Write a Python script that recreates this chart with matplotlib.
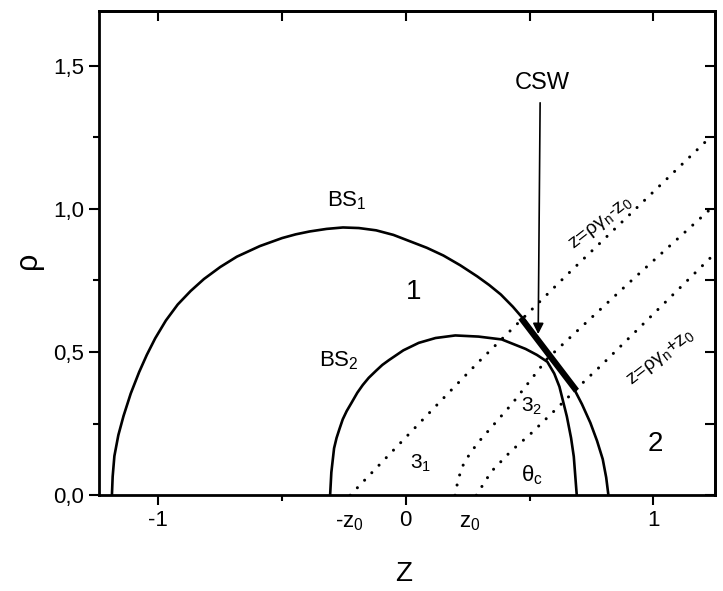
import matplotlib
matplotlib.use("Agg")
import matplotlib.pyplot as plt
from matplotlib.ticker import MultipleLocator, FuncFormatter

plt.rcParams['font.family'] = ['Liberation Sans', 'DejaVu Sans']
plt.rcParams['mathtext.default'] = 'regular'
plt.rcParams['axes.unicode_minus'] = False

# outer shock BS1 (z, rho)
bs1_z = [-1.188, -1.185, -1.178, -1.162, -1.141, -1.112, -1.078, -1.047, -1.013,
         -0.97, -0.922, -0.87, -0.816, -0.75, -0.683, -0.59, -0.50, -0.445,
         -0.389, -0.32, -0.254, -0.19, -0.12, -0.05, 0.016, 0.085, 0.152,
         0.22, 0.289, 0.337, 0.384, 0.433, 0.481, 0.53, 0.578, 0.63, 0.675,
         0.712, 0.746, 0.773, 0.796, 0.81, 0.819]
bs1_rho = [0.0, 0.065, 0.137, 0.21, 0.277, 0.355, 0.430, 0.49, 0.548,
           0.61, 0.666, 0.713, 0.755, 0.797, 0.833, 0.870, 0.898, 0.911,
           0.921, 0.93, 0.935, 0.933, 0.925, 0.909, 0.887, 0.864, 0.837,
           0.803, 0.764, 0.734, 0.701, 0.658, 0.610, 0.548, 0.483, 0.43, 0.380,
           0.318, 0.253, 0.19, 0.126, 0.062, 0.0]

# inner shock BS2
bs2_z = [-0.306, -0.301, -0.290, -0.280, -0.268, -0.255, -0.239, -0.22, -0.196,
         -0.174, -0.15, -0.12, -0.095, -0.068, -0.01, 0.052, 0.12, 0.20, 0.294,
         0.388, 0.484, 0.53, 0.572, 0.60, 0.621, 0.651, 0.668, 0.679, 0.691]
bs2_rho = [0.0, 0.08, 0.164, 0.2, 0.232, 0.265, 0.294, 0.322, 0.358,
           0.385, 0.41, 0.435, 0.455, 0.472, 0.506, 0.532, 0.549, 0.558, 0.554,
           0.544, 0.511, 0.49, 0.466, 0.425, 0.379, 0.275, 0.2, 0.135, 0.0]

# dotted lines
la_z = [-0.225, 0.151, 0.289, 0.652, 1.234]
la_rho = [0.0, 0.338, 0.461, 0.770, 1.253]

lb_z = [0.199, 0.212, 0.231, 0.250, 0.289, 0.43, 0.572, 0.90, 1.240]
lb_rho = [0.0, 0.057, 0.104, 0.133, 0.181, 0.32, 0.477, 0.74, 1.006]

lc_z = [0.285, 0.346, 0.425, 0.504, 0.603, 0.729, 0.781, 1.243]
lc_rho = [0.0, 0.083, 0.154, 0.214, 0.297, 0.404, 0.446, 0.839]

# CSW: thick segment and arrow
csw_z = [0.465, 0.690]
csw_rho = [0.620, 0.365]
arrow_z = [0.543, 0.535]
arrow_rho = [1.38, 0.553]

fig = plt.figure(figsize=(7.23, 5.91), dpi=100)
ax = fig.add_axes([0.137, 0.162, 0.852, 0.819])

ax.plot(bs1_z, bs1_rho, color='k', lw=1.9, solid_joinstyle='round')
ax.plot(bs2_z, bs2_rho, color='k', lw=1.9, solid_joinstyle='round')
for zz, rr in [(la_z, la_rho), (lb_z, lb_rho), (lc_z, lc_rho)]:
    ax.plot(zz, rr, color='k', lw=2.2, linestyle=(0, (0.01, 3.4)),
            dash_capstyle='round')
ax.plot(csw_z, csw_rho, color='k', lw=4.5, solid_capstyle='butt')
ax.annotate('', xy=(arrow_z[1], arrow_rho[1]), xytext=(arrow_z[0], arrow_rho[0]),
            arrowprops=dict(arrowstyle='-|>', color='k', lw=1.2, mutation_scale=16))

# labels
ax.text(0.55, 1.44, 'CSW', fontsize=17, ha='center', va='center')
ax.text(-0.24, 1.03, 'BS$_1$', fontsize=16, ha='center', va='center')
ax.text(-0.27, 0.47, 'BS$_2$', fontsize=16, ha='center', va='center')
ax.text(0.03, 0.71, '1', fontsize=20, ha='center', va='center')
ax.text(1.01, 0.18, '2', fontsize=20, ha='center', va='center')
ax.text(0.06, 0.11, '3$_1$', fontsize=15, ha='center', va='center')
ax.text(0.51, 0.31, '3$_2$', fontsize=15, ha='center', va='center')
ax.text(0.51, 0.07, r'$\theta_c$', fontsize=16, ha='center', va='center')
ax.text(0.79, 0.95, r'z=$\rho\gamma_n$-z$_0$', fontsize=14, rotation=38,
        ha='center', va='center', rotation_mode='anchor')
ax.text(1.03, 0.48, r'z=$\rho\gamma_n$+z$_0$', fontsize=14, rotation=38,
        ha='center', va='center', rotation_mode='anchor')

ax.set_xlim(-1.24, 1.25)
ax.set_ylim(0, 1.69)

ax.xaxis.set_major_locator(MultipleLocator(1))
ax.xaxis.set_minor_locator(MultipleLocator(0.5))
ax.yaxis.set_major_locator(MultipleLocator(0.5))
ax.yaxis.set_minor_locator(MultipleLocator(0.25))
ax.xaxis.set_major_formatter(FuncFormatter(lambda v, p: f"{v:.0f}"))
ax.yaxis.set_major_formatter(FuncFormatter(lambda v, p: f"{v:.1f}".replace('.', ',')))
ax.tick_params(which='major', direction='out', length=7, width=1.5, labelsize=16)
ax.tick_params(which='minor', direction='out', length=4, width=1.5)

# z0 marks under the axis
ax.text(-0.23, -0.035, '-z$_0$', fontsize=16, ha='center', va='top',
        transform=ax.get_xaxis_transform())
ax.text(0.26, -0.035, 'z$_0$', fontsize=16, ha='center', va='top',
        transform=ax.get_xaxis_transform())

# mirrored ticks inside on top and right
top = ax.secondary_xaxis('top')
top.xaxis.set_major_locator(MultipleLocator(0.5))
top.tick_params(direction='in', length=7, width=1.5, labeltop=False)
right = ax.secondary_yaxis('right')
right.yaxis.set_major_locator(MultipleLocator(0.25))
right.tick_params(direction='in', length=7, width=1.5, labelright=False)

for s in list(ax.spines.values()) + [top.spines['top'], right.spines['right']]:
    s.set_linewidth(2)

ax.set_xlabel('Z', fontsize=20)
ax.xaxis.set_label_coords(0.495, -0.135)
ax.set_ylabel(r'$\rho$', fontsize=22)
ax.yaxis.set_label_coords(-0.085, 0.48)

fig.savefig('out.png', dpi=100)
